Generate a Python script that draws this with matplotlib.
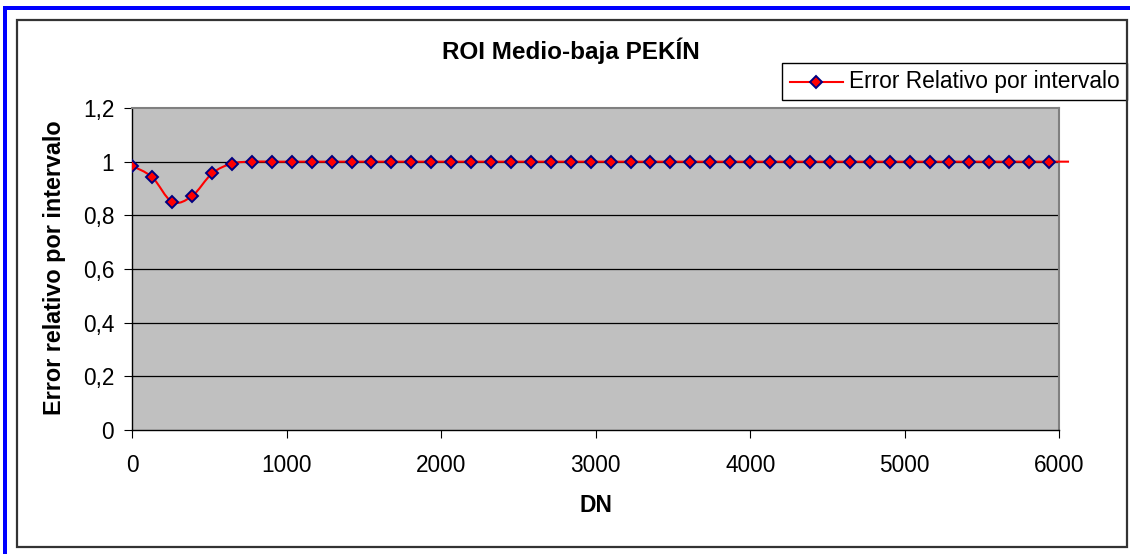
import matplotlib
matplotlib.use("Agg")
import matplotlib.pyplot as plt
import numpy as np
from matplotlib.path import Path
from matplotlib.patches import PathPatch, Rectangle
from matplotlib.lines import Line2D

plt.rcParams['font.family'] = ['Liberation Sans', 'DejaVu Sans']

# ---- data ----
dn = [0, 129, 258, 387, 516, 645, 774, 903, 1032, 1161, 1290, 1419, 1548, 1677,
      1806, 1935, 2064, 2193, 2322, 2451, 2580, 2709, 2838, 2967, 3096, 3225,
      3354, 3483, 3612, 3741, 3870, 3999, 4128, 4257, 4386, 4515, 4644, 4773,
      4902, 5031, 5160, 5289, 5418, 5547, 5676, 5805, 5934, 6063]
error_rel = [0.984, 0.942, 0.850, 0.872, 0.956, 0.993] + [1.0] * 42
title = "ROI Medio-baja PEKÍN"
xlabel = "DN"
ylabel = "Error relativo por intervalo"
legend_label = "Error Relativo por intervalo"
xticks = [0, 1000, 2000, 3000, 4000, 5000, 6000]
yticks = [0, 0.2, 0.4, 0.6, 0.8, 1.0, 1.2]
ytick_labels = ["0", "0,2", "0,4", "0,6", "0,8", "1", "1,2"]

W, H = 1130, 554
fig = plt.figure(figsize=(W / 100, H / 100), dpi=100)

def fx(px):
    return px / W

def fy(py):
    return 1 - py / H

# axes in pixel geometry
L, R, T, B = 132.3, 1059.3, 108, 430
ax = fig.add_axes([fx(L), fy(B), (R - L) / W, (B - T) / H])
ax.set_facecolor('#C0C0C0')
ax.set_xlim(0, 6000)
ax.set_ylim(0, 1.2)
ax.set_xticks(xticks)
ax.set_xticklabels([str(t) for t in xticks])
ax.set_yticks(yticks)
ax.set_yticklabels(ytick_labels)
ax.tick_params(axis='both', direction='out', length=6, width=0.8, color='black',
               labelsize=16.3)
ax.tick_params(axis='y', pad=7)
ax.tick_params(axis='x', pad=11)
for yv in yticks[1:-1]:
    ax.axhline(yv, color='black', lw=0.9, zorder=1)
ax.spines['left'].set_color('black')
ax.spines['bottom'].set_color('black')
ax.spines['left'].set_linewidth(1.0)
ax.spines['bottom'].set_linewidth(1.0)
ax.spines['top'].set_color('#808080')
ax.spines['right'].set_color('#808080')
ax.spines['top'].set_linewidth(1.5)
ax.spines['right'].set_linewidth(1.5)

# smoothed (Catmull-Rom / Bezier) line, like Excel smoothed lines
xs = np.array(dn, dtype=float)
ys = np.array(error_rel, dtype=float)
n = len(xs)
verts = [(xs[0], ys[0])]
codes = [Path.MOVETO]
for i in range(n - 1):
    im1 = max(i - 1, 0)
    ip2 = min(i + 2, n - 1)
    c1 = (xs[i] + (xs[i + 1] - xs[im1]) / 6, ys[i] + (ys[i + 1] - ys[im1]) / 6)
    c2 = (xs[i + 1] - (xs[ip2] - xs[i]) / 6, ys[i + 1] - (ys[ip2] - ys[i]) / 6)
    verts += [c1, c2, (xs[i + 1], ys[i + 1])]
    codes += [Path.CURVE4] * 3
patch = PathPatch(Path(verts, codes), facecolor='none', edgecolor='#FF0000',
                  lw=1.5, zorder=3, clip_on=False)
ax.add_patch(patch)
mk = dict(marker='D', markersize=6.3, markerfacecolor='#FF0000',
          markeredgecolor='#000080', markeredgewidth=1.4)
ax.plot(xs, ys, linestyle='none', zorder=4, **mk)

# texts
fig.text(fx(570.8), fy(50.3), title, ha='center', va='center',
         fontsize=17.5, fontweight='bold')
fig.text(fx(595.7), fy(506), xlabel, ha='center', va='center',
         fontsize=16.5, fontweight='bold')
fig.text(fx(54), fy(268), ylabel, ha='center', va='center', rotation=90,
         fontsize=16.8, fontweight='bold')

# legend (drawn manually)
fig.patches.append(Rectangle((fx(781.7), fy(100)), (1126.7 - 781.7) / W,
                             (100 - 62.7) / H, transform=fig.transFigure,
                             facecolor='white', edgecolor='black', lw=1.0,
                             zorder=5))
fig.lines.append(Line2D([fx(790), fx(842.7)], [fy(81.5), fy(81.5)],
                        transform=fig.transFigure, color='#FF0000', lw=1.5,
                        zorder=6))
fig.lines.append(Line2D([fx(816.3)], [fy(81.5)], transform=fig.transFigure,
                        linestyle='none', zorder=7, **mk))
fig.text(fx(849), fy(81.5), legend_label, ha='left', va='center',
         fontsize=16.4, zorder=8)

# chart area border with shadow, and blue outer frame
fig.patches.append(Rectangle((fx(17), fy(547)), (1127 - 17) / W, (547 - 20) / H,
                             transform=fig.transFigure, facecolor='none',
                             edgecolor='#333333', lw=1.6, zorder=10))
fig.patches.append(Rectangle((fx(3), fy(9.5)), (W - 3) / W, 3.8 / H,
                             transform=fig.transFigure, facecolor='#0000FF',
                             edgecolor='none', zorder=11))
fig.patches.append(Rectangle((fx(3), 0), 4.2 / W, fy(5.7),
                             transform=fig.transFigure, facecolor='#0000FF',
                             edgecolor='none', zorder=11))

fig.savefig('out.png', dpi=100)
